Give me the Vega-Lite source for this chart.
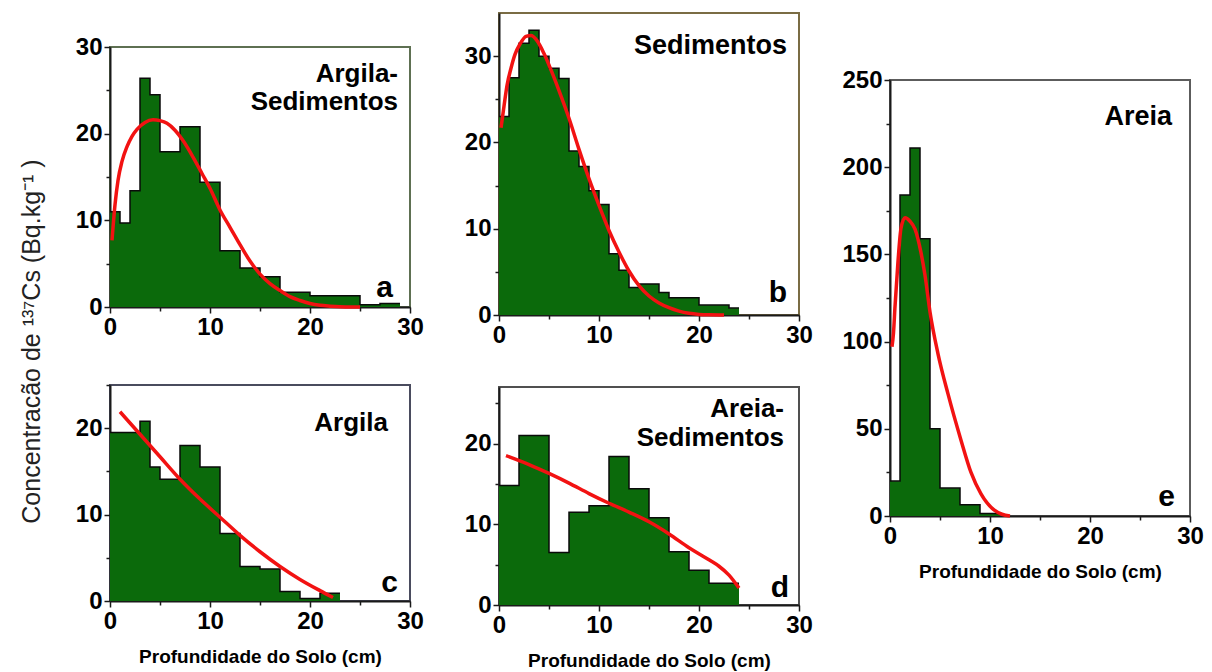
{
  "$schema": "https://vega.github.io/schema/vega-lite/v6.json",
  "background": "white",
  "padding": {"left": 20, "top": 12, "right": 5, "bottom": 5},
  "title": {
    "text": "Concentracão de ¹³⁷Cs  (Bq.kg⁻¹ )",
    "orient": "left",
    "anchor": "middle",
    "font": "Liberation Sans",
    "fontSize": 25,
    "fontWeight": "normal",
    "color": "#222222",
    "offset": 29
  },
  "config": {
    "axis": {
      "grid": false,
      "domainColor": "#1a1a1a",
      "domainWidth": 2,
      "tickColor": "#1a1a1a",
      "tickWidth": 1.5,
      "labelFont": "Liberation Sans",
      "labelFontSize": 24,
      "labelFontWeight": "bold",
      "labelColor": "#000000",
      "labelPadding": 2,
      "labelOverlap": false,
      "labelFlush": false,
      "titleFont": "Liberation Sans",
      "titleFontSize": 19,
      "titleFontWeight": "bold",
      "titleColor": "#000000",
      "titlePadding": 14
    },
    "text": {"font": "Liberation Sans", "fontWeight": "bold", "color": "#000000", "align": "right"}
  },
  "datasets": {
    "bins": [
      {"p": "a", "i": 1, "x0": 0, "x1": 1, "v": 11},
      {"p": "a", "i": 2, "x0": 1, "x1": 2, "v": 9.7},
      {"p": "a", "i": 3, "x0": 2, "x1": 3, "v": 13.4},
      {"p": "a", "i": 4, "x0": 3, "x1": 4, "v": 26.4},
      {"p": "a", "i": 5, "x0": 4, "x1": 5, "v": 24.5},
      {"p": "a", "i": 6, "x0": 5, "x1": 7, "v": 17.9},
      {"p": "a", "i": 7, "x0": 7, "x1": 9, "v": 20.8},
      {"p": "a", "i": 8, "x0": 9, "x1": 11, "v": 14.4},
      {"p": "a", "i": 9, "x0": 11, "x1": 13, "v": 6.5},
      {"p": "a", "i": 10, "x0": 13, "x1": 15, "v": 4.5},
      {"p": "a", "i": 11, "x0": 15, "x1": 17, "v": 3.5},
      {"p": "a", "i": 12, "x0": 17, "x1": 20, "v": 1.7},
      {"p": "a", "i": 13, "x0": 20, "x1": 25, "v": 1.3},
      {"p": "a", "i": 14, "x0": 25, "x1": 27, "v": 0.25},
      {"p": "a", "i": 15, "x0": 27, "x1": 29, "v": 0.4},

      {"p": "b", "i": 1, "x0": 0, "x1": 1, "v": 23},
      {"p": "b", "i": 2, "x0": 1, "x1": 2, "v": 27.5},
      {"p": "b", "i": 3, "x0": 2, "x1": 3, "v": 31.5},
      {"p": "b", "i": 4, "x0": 3, "x1": 4, "v": 33},
      {"p": "b", "i": 5, "x0": 4, "x1": 5, "v": 30},
      {"p": "b", "i": 6, "x0": 5, "x1": 6, "v": 28.6},
      {"p": "b", "i": 7, "x0": 6, "x1": 7, "v": 27.4},
      {"p": "b", "i": 8, "x0": 7, "x1": 8, "v": 19},
      {"p": "b", "i": 9, "x0": 8, "x1": 9, "v": 17.2},
      {"p": "b", "i": 10, "x0": 9, "x1": 10, "v": 14.4},
      {"p": "b", "i": 11, "x0": 10, "x1": 11, "v": 12.8},
      {"p": "b", "i": 12, "x0": 11, "x1": 12, "v": 7.1},
      {"p": "b", "i": 13, "x0": 12, "x1": 13, "v": 5.2},
      {"p": "b", "i": 14, "x0": 13, "x1": 14, "v": 3.2},
      {"p": "b", "i": 15, "x0": 14, "x1": 16, "v": 3.6},
      {"p": "b", "i": 16, "x0": 16, "x1": 17, "v": 2.6},
      {"p": "b", "i": 17, "x0": 17, "x1": 20, "v": 2.0},
      {"p": "b", "i": 18, "x0": 20, "x1": 23, "v": 1.15},
      {"p": "b", "i": 19, "x0": 23, "x1": 24, "v": 0.8},

      {"p": "c", "i": 1, "x0": 0, "x1": 3, "v": 19.5},
      {"p": "c", "i": 2, "x0": 3, "x1": 4, "v": 20.8},
      {"p": "c", "i": 3, "x0": 4, "x1": 5, "v": 15.5},
      {"p": "c", "i": 4, "x0": 5, "x1": 7, "v": 14.1},
      {"p": "c", "i": 5, "x0": 7, "x1": 9, "v": 18},
      {"p": "c", "i": 6, "x0": 9, "x1": 11, "v": 15.5},
      {"p": "c", "i": 7, "x0": 11, "x1": 13, "v": 7.8},
      {"p": "c", "i": 8, "x0": 13, "x1": 15, "v": 4.0},
      {"p": "c", "i": 9, "x0": 15, "x1": 17, "v": 3.7},
      {"p": "c", "i": 10, "x0": 17, "x1": 19, "v": 1.1},
      {"p": "c", "i": 11, "x0": 19, "x1": 21, "v": 0.3},
      {"p": "c", "i": 12, "x0": 21, "x1": 23, "v": 0.9},

      {"p": "d", "i": 1, "x0": 0, "x1": 2, "v": 14.8},
      {"p": "d", "i": 2, "x0": 2, "x1": 5, "v": 21},
      {"p": "d", "i": 3, "x0": 5, "x1": 7, "v": 6.5},
      {"p": "d", "i": 4, "x0": 7, "x1": 9, "v": 11.5},
      {"p": "d", "i": 5, "x0": 9, "x1": 11, "v": 12.3},
      {"p": "d", "i": 6, "x0": 11, "x1": 13, "v": 18.4},
      {"p": "d", "i": 7, "x0": 13, "x1": 15, "v": 14.4},
      {"p": "d", "i": 8, "x0": 15, "x1": 17, "v": 10.8},
      {"p": "d", "i": 9, "x0": 17, "x1": 19, "v": 6.6},
      {"p": "d", "i": 10, "x0": 19, "x1": 21, "v": 4.3},
      {"p": "d", "i": 11, "x0": 21, "x1": 24, "v": 2.7},

      {"p": "e", "i": 1, "x0": 0, "x1": 1, "v": 20},
      {"p": "e", "i": 2, "x0": 1, "x1": 2, "v": 184},
      {"p": "e", "i": 3, "x0": 2, "x1": 3, "v": 211},
      {"p": "e", "i": 4, "x0": 3, "x1": 4, "v": 159},
      {"p": "e", "i": 5, "x0": 4, "x1": 5, "v": 50},
      {"p": "e", "i": 6, "x0": 5, "x1": 7, "v": 16},
      {"p": "e", "i": 7, "x0": 7, "x1": 9, "v": 6.5},
      {"p": "e", "i": 8, "x0": 9, "x1": 11, "v": 1.5}
    ],
    "fit": [
      {"p": "a", "d": 0.2, "c": 7.7}, {"p": "a", "d": 0.5, "c": 11.8}, {"p": "a", "d": 0.8, "c": 14.6},
      {"p": "a", "d": 1.2, "c": 16.8}, {"p": "a", "d": 1.7, "c": 18.5}, {"p": "a", "d": 2.2, "c": 19.7},
      {"p": "a", "d": 2.7, "c": 20.5}, {"p": "a", "d": 3.5, "c": 21.3}, {"p": "a", "d": 4.3, "c": 21.6},
      {"p": "a", "d": 5, "c": 21.5}, {"p": "a", "d": 5.7, "c": 21.2}, {"p": "a", "d": 6.5, "c": 20.4},
      {"p": "a", "d": 7.3, "c": 19.2}, {"p": "a", "d": 8.3, "c": 17.3}, {"p": "a", "d": 9.2, "c": 15.4},
      {"p": "a", "d": 10, "c": 13.7}, {"p": "a", "d": 11, "c": 11.2}, {"p": "a", "d": 12, "c": 9.2},
      {"p": "a", "d": 13, "c": 7.2}, {"p": "a", "d": 14, "c": 5.3}, {"p": "a", "d": 15, "c": 3.8},
      {"p": "a", "d": 16, "c": 2.7}, {"p": "a", "d": 17, "c": 1.9}, {"p": "a", "d": 18, "c": 1.2},
      {"p": "a", "d": 19, "c": 0.75}, {"p": "a", "d": 20, "c": 0.4}, {"p": "a", "d": 21, "c": 0.2},
      {"p": "a", "d": 22, "c": 0.1}, {"p": "a", "d": 23, "c": 0.03}, {"p": "a", "d": 24, "c": 0},
      {"p": "a", "d": 25, "c": 0},

      {"p": "b", "d": 0.2, "c": 21.7}, {"p": "b", "d": 0.5, "c": 24.2}, {"p": "b", "d": 0.8, "c": 26.6},
      {"p": "b", "d": 1.2, "c": 28.6}, {"p": "b", "d": 1.6, "c": 30.2}, {"p": "b", "d": 2.1, "c": 31.4},
      {"p": "b", "d": 2.7, "c": 32.3}, {"p": "b", "d": 3.2, "c": 32.4}, {"p": "b", "d": 3.8, "c": 31.8},
      {"p": "b", "d": 4.5, "c": 30.3}, {"p": "b", "d": 5.2, "c": 28.4}, {"p": "b", "d": 6, "c": 26},
      {"p": "b", "d": 7, "c": 22.8}, {"p": "b", "d": 8, "c": 19.2}, {"p": "b", "d": 9, "c": 15.8},
      {"p": "b", "d": 10, "c": 12.7}, {"p": "b", "d": 11, "c": 9.8}, {"p": "b", "d": 12, "c": 7.3},
      {"p": "b", "d": 13, "c": 5.1}, {"p": "b", "d": 14, "c": 3.4}, {"p": "b", "d": 15, "c": 2.2},
      {"p": "b", "d": 16, "c": 1.4}, {"p": "b", "d": 17, "c": 0.85}, {"p": "b", "d": 18, "c": 0.45},
      {"p": "b", "d": 19, "c": 0.2}, {"p": "b", "d": 20, "c": 0.07}, {"p": "b", "d": 21, "c": 0.02},
      {"p": "b", "d": 22.5, "c": 0},

      {"p": "c", "d": 1, "c": 21.9}, {"p": "c", "d": 3, "c": 19.3}, {"p": "c", "d": 5, "c": 16.7},
      {"p": "c", "d": 7, "c": 14.1}, {"p": "c", "d": 9, "c": 11.8}, {"p": "c", "d": 11, "c": 9.7},
      {"p": "c", "d": 13, "c": 7.6}, {"p": "c", "d": 15, "c": 5.7}, {"p": "c", "d": 17, "c": 4.0},
      {"p": "c", "d": 19, "c": 2.5}, {"p": "c", "d": 21, "c": 1.2}, {"p": "c", "d": 22.3, "c": 0.4},

      {"p": "d", "d": 0.7, "c": 18.5}, {"p": "d", "d": 3, "c": 17.4}, {"p": "d", "d": 5, "c": 16.3},
      {"p": "d", "d": 7, "c": 15.1}, {"p": "d", "d": 9, "c": 13.8}, {"p": "d", "d": 11, "c": 12.6},
      {"p": "d", "d": 13, "c": 11.5}, {"p": "d", "d": 15, "c": 10.3}, {"p": "d", "d": 17, "c": 8.8},
      {"p": "d", "d": 19, "c": 7.1}, {"p": "d", "d": 21, "c": 5.6}, {"p": "d", "d": 22, "c": 4.8},
      {"p": "d", "d": 23, "c": 3.7}, {"p": "d", "d": 24, "c": 2.1},

      {"p": "e", "d": 0.2, "c": 97}, {"p": "e", "d": 0.35, "c": 105}, {"p": "e", "d": 0.5, "c": 120},
      {"p": "e", "d": 0.8, "c": 146}, {"p": "e", "d": 1.1, "c": 165}, {"p": "e", "d": 1.5, "c": 171},
      {"p": "e", "d": 2, "c": 169}, {"p": "e", "d": 2.5, "c": 164.5}, {"p": "e", "d": 3.1, "c": 151},
      {"p": "e", "d": 3.5, "c": 138}, {"p": "e", "d": 4, "c": 117}, {"p": "e", "d": 4.8, "c": 93},
      {"p": "e", "d": 5.8, "c": 70}, {"p": "e", "d": 7.1, "c": 43.5}, {"p": "e", "d": 8.1, "c": 25},
      {"p": "e", "d": 9.1, "c": 12.7}, {"p": "e", "d": 10.4, "c": 3.5}, {"p": "e", "d": 11.2, "c": 1},
      {"p": "e", "d": 12, "c": 0}
    ],
    "tags": [
      {"p": "a", "kind": "name", "d": 28.8, "c": 26.9, "t": "Argila-"},
      {"p": "a", "kind": "name", "d": 28.8, "c": 23.6, "t": "Sedimentos"},
      {"p": "a", "kind": "letter", "d": 28.3, "c": 2.2, "t": "a"},
      {"p": "b", "kind": "name", "d": 28.8, "c": 31.2, "t": "Sedimentos"},
      {"p": "b", "kind": "letter", "d": 28.8, "c": 2.5, "t": "b"},
      {"p": "c", "kind": "name", "d": 27.8, "c": 20.6, "t": "Argila"},
      {"p": "c", "kind": "letter", "d": 28.8, "c": 2.1, "t": "c"},
      {"p": "d", "kind": "name", "d": 28.5, "c": 24.3, "t": "Areia-"},
      {"p": "d", "kind": "name", "d": 28.5, "c": 20.7, "t": "Sedimentos"},
      {"p": "d", "kind": "letter", "d": 29, "c": 2.1, "t": "d"},
      {"p": "e", "kind": "name", "d": 28.2, "c": 229, "t": "Areia"},
      {"p": "e", "kind": "letter", "d": 28.5, "c": 10.9, "t": "e"}
    ]
  },
  "hconcat": [
    {
      "hconcat": [
        {
          "vconcat": [
            {"width": 300, "height": 34, "view": {"fill": "#ffffff", "stroke": null}, "data": {"values": [{}]}, "mark": {"type": "point", "opacity": 0}},
            {
              "vconcat": [
                {
                  "width": 300, "height": 260,
                  "view": {"stroke": "#5e7052", "strokeWidth": 2},
                  "layer": [
                    {"data": {"name": "bins"}, "transform": [{"filter": "datum.p === 'a'"}],
                     "mark": {"type": "rect", "color": "#0b6a0b"},
                     "encoding": {
                       "x": {"field": "x0", "type": "quantitative", "scale": {"domain": [0, 30], "nice": false},
                             "axis": {"title": null, "values": [0,5,10,15,20,25,30],
                                      "labelExpr": "datum.value % 10 === 0 ? datum.label : ''",
                                      "tickSize": {"condition": {"test": "datum.value % 10 === 0", "value": 6}, "value": 4}}},
                       "x2": {"field": "x1"},
                       "y": {"field": "v", "type": "quantitative", "scale": {"domain": [0, 30], "nice": false},
                             "axis": {"title": null, "values": [0,5,10,15,20,25,30],
                                      "labelExpr": "datum.value % 10 === 0 ? datum.label : ''",
                                      "tickSize": {"condition": {"test": "datum.value % 10 === 0", "value": 6}, "value": 4}}},
                       "y2": {"datum": 0}
                     }},
                    {"data": {"name": "bins"}, "transform": [{"filter": "datum.p === 'a'"}, {"fold": ["x0", "x1"], "as": ["k", "xx"]}],
                     "mark": {"type": "line", "color": "#0a0a0a", "strokeWidth": 1.5},
                     "encoding": {"x": {"field": "xx", "type": "quantitative", "title": null}, "y": {"field": "v", "type": "quantitative", "title": null},
                                  "order": [{"field": "i", "type": "quantitative"}, {"field": "k", "type": "ordinal"}]}},
                    {"data": {"name": "fit"}, "transform": [{"filter": "datum.p === 'a'"}],
                     "mark": {"type": "line", "color": "#f21212", "strokeWidth": 3.5, "interpolate": "monotone"},
                     "encoding": {"x": {"field": "d", "type": "quantitative", "title": null}, "y": {"field": "c", "type": "quantitative", "title": null}}},
                    {"data": {"name": "tags"}, "transform": [{"filter": "datum.p === 'a' && datum.kind === 'name'"}],
                     "mark": {"type": "text", "fontSize": 26},
                     "encoding": {"x": {"field": "d", "type": "quantitative", "title": null}, "y": {"field": "c", "type": "quantitative", "title": null}, "text": {"field": "t"}}},
                    {"data": {"name": "tags"}, "transform": [{"filter": "datum.p === 'a' && datum.kind === 'letter'"}],
                     "mark": {"type": "text", "fontSize": 30},
                     "encoding": {"x": {"field": "d", "type": "quantitative", "title": null}, "y": {"field": "c", "type": "quantitative", "title": null}, "text": {"field": "t"}}}
                  ]
                },
                {
                  "width": 300, "height": 216,
                  "view": {"stroke": "#4a4c5e", "strokeWidth": 2},
                  "layer": [
                    {"data": {"name": "bins"}, "transform": [{"filter": "datum.p === 'c'"}],
                     "mark": {"type": "rect", "color": "#0b6a0b"},
                     "encoding": {
                       "x": {"field": "x0", "type": "quantitative", "scale": {"domain": [0, 30], "nice": false},
                             "axis": {"title": "Profundidade do Solo (cm)", "values": [0,5,10,15,20,25,30],
                                      "labelExpr": "datum.value % 10 === 0 ? datum.label : ''",
                                      "tickSize": {"condition": {"test": "datum.value % 10 === 0", "value": 6}, "value": 4}}},
                       "x2": {"field": "x1"},
                       "y": {"field": "v", "type": "quantitative", "scale": {"domain": [0, 25], "nice": false},
                             "axis": {"title": null, "values": [0,5,10,15,20,25],
                                      "labelExpr": "datum.value % 10 === 0 ? datum.label : ''",
                                      "tickSize": {"condition": {"test": "datum.value % 10 === 0", "value": 6}, "value": 4}}},
                       "y2": {"datum": 0}
                     }},
                    {"data": {"name": "bins"}, "transform": [{"filter": "datum.p === 'c'"}, {"fold": ["x0", "x1"], "as": ["k", "xx"]}],
                     "mark": {"type": "line", "color": "#0a0a0a", "strokeWidth": 1.5},
                     "encoding": {"x": {"field": "xx", "type": "quantitative"}, "y": {"field": "v", "type": "quantitative", "title": null},
                                  "order": [{"field": "i", "type": "quantitative"}, {"field": "k", "type": "ordinal"}]}},
                    {"data": {"name": "fit"}, "transform": [{"filter": "datum.p === 'c'"}],
                     "mark": {"type": "line", "color": "#f21212", "strokeWidth": 3.5, "interpolate": "monotone"},
                     "encoding": {"x": {"field": "d", "type": "quantitative"}, "y": {"field": "c", "type": "quantitative", "title": null}}},
                    {"data": {"name": "tags"}, "transform": [{"filter": "datum.p === 'c' && datum.kind === 'name'"}],
                     "mark": {"type": "text", "fontSize": 26},
                     "encoding": {"x": {"field": "d", "type": "quantitative"}, "y": {"field": "c", "type": "quantitative", "title": null}, "text": {"field": "t"}}},
                    {"data": {"name": "tags"}, "transform": [{"filter": "datum.p === 'c' && datum.kind === 'letter'"}],
                     "mark": {"type": "text", "fontSize": 30},
                     "encoding": {"x": {"field": "d", "type": "quantitative"}, "y": {"field": "c", "type": "quantitative", "title": null}, "text": {"field": "t"}}}
                  ]
                }
              ],
              "spacing": 78,
              "bounds": "flush"
            }
          ],
          "spacing": 0,
          "bounds": "flush"
        },
        {
          "vconcat": [
            {
              "width": 300, "height": 302,
              "view": {"stroke": "#7a6c44", "strokeWidth": 2},
              "layer": [
                {"data": {"name": "bins"}, "transform": [{"filter": "datum.p === 'b'"}],
                 "mark": {"type": "rect", "color": "#0b6a0b"},
                 "encoding": {
                   "x": {"field": "x0", "type": "quantitative", "scale": {"domain": [0, 30], "nice": false},
                         "axis": {"title": null, "values": [0,5,10,15,20,25,30],
                                  "labelExpr": "datum.value % 10 === 0 ? datum.label : ''",
                                  "tickSize": {"condition": {"test": "datum.value % 10 === 0", "value": 6}, "value": 4}}},
                   "x2": {"field": "x1"},
                   "y": {"field": "v", "type": "quantitative", "scale": {"domain": [0, 35], "nice": false},
                         "axis": {"title": null, "values": [0,5,10,15,20,25,30],
                                  "labelExpr": "datum.value % 10 === 0 ? datum.label : ''",
                                  "tickSize": {"condition": {"test": "datum.value % 10 === 0", "value": 6}, "value": 4}}},
                   "y2": {"datum": 0}
                 }},
                {"data": {"name": "bins"}, "transform": [{"filter": "datum.p === 'b'"}, {"fold": ["x0", "x1"], "as": ["k", "xx"]}],
                 "mark": {"type": "line", "color": "#0a0a0a", "strokeWidth": 1.5},
                 "encoding": {"x": {"field": "xx", "type": "quantitative", "title": null}, "y": {"field": "v", "type": "quantitative", "title": null},
                              "order": [{"field": "i", "type": "quantitative"}, {"field": "k", "type": "ordinal"}]}},
                {"data": {"name": "fit"}, "transform": [{"filter": "datum.p === 'b'"}],
                 "mark": {"type": "line", "color": "#f21212", "strokeWidth": 3.5, "interpolate": "monotone"},
                 "encoding": {"x": {"field": "d", "type": "quantitative", "title": null}, "y": {"field": "c", "type": "quantitative", "title": null}}},
                {"data": {"name": "tags"}, "transform": [{"filter": "datum.p === 'b' && datum.kind === 'name'"}],
                 "mark": {"type": "text", "fontSize": 27},
                 "encoding": {"x": {"field": "d", "type": "quantitative", "title": null}, "y": {"field": "c", "type": "quantitative", "title": null}, "text": {"field": "t"}}},
                {"data": {"name": "tags"}, "transform": [{"filter": "datum.p === 'b' && datum.kind === 'letter'"}],
                 "mark": {"type": "text", "fontSize": 30},
                 "encoding": {"x": {"field": "d", "type": "quantitative", "title": null}, "y": {"field": "c", "type": "quantitative", "title": null}, "text": {"field": "t"}}}
              ]
            },
            {
              "width": 300, "height": 218,
              "view": {"stroke": "#505050", "strokeWidth": 2},
              "layer": [
                {"data": {"name": "bins"}, "transform": [{"filter": "datum.p === 'd'"}],
                 "mark": {"type": "rect", "color": "#0b6a0b"},
                 "encoding": {
                   "x": {"field": "x0", "type": "quantitative", "scale": {"domain": [0, 30], "nice": false},
                         "axis": {"title": "Profundidade do Solo (cm)", "values": [0,5,10,15,20,25,30],
                                  "labelExpr": "datum.value % 10 === 0 ? datum.label : ''",
                                  "tickSize": {"condition": {"test": "datum.value % 10 === 0", "value": 6}, "value": 4}}},
                   "x2": {"field": "x1"},
                   "y": {"field": "v", "type": "quantitative", "scale": {"domain": [0, 27], "nice": false},
                         "axis": {"title": null, "values": [0,5,10,15,20,25],
                                  "labelExpr": "datum.value % 10 === 0 ? datum.label : ''",
                                  "tickSize": {"condition": {"test": "datum.value % 10 === 0", "value": 6}, "value": 4}}},
                   "y2": {"datum": 0}
                 }},
                {"data": {"name": "bins"}, "transform": [{"filter": "datum.p === 'd'"}, {"fold": ["x0", "x1"], "as": ["k", "xx"]}],
                 "mark": {"type": "line", "color": "#0a0a0a", "strokeWidth": 1.5},
                 "encoding": {"x": {"field": "xx", "type": "quantitative"}, "y": {"field": "v", "type": "quantitative", "title": null},
                              "order": [{"field": "i", "type": "quantitative"}, {"field": "k", "type": "ordinal"}]}},
                {"data": {"name": "fit"}, "transform": [{"filter": "datum.p === 'd'"}],
                 "mark": {"type": "line", "color": "#f21212", "strokeWidth": 3.5, "interpolate": "monotone"},
                 "encoding": {"x": {"field": "d", "type": "quantitative"}, "y": {"field": "c", "type": "quantitative", "title": null}}},
                {"data": {"name": "tags"}, "transform": [{"filter": "datum.p === 'd' && datum.kind === 'name'"}],
                 "mark": {"type": "text", "fontSize": 26},
                 "encoding": {"x": {"field": "d", "type": "quantitative"}, "y": {"field": "c", "type": "quantitative", "title": null}, "text": {"field": "t"}}},
                {"data": {"name": "tags"}, "transform": [{"filter": "datum.p === 'd' && datum.kind === 'letter'"}],
                 "mark": {"type": "text", "fontSize": 30},
                 "encoding": {"x": {"field": "d", "type": "quantitative"}, "y": {"field": "c", "type": "quantitative", "title": null}, "text": {"field": "t"}}}
              ]
            }
          ],
          "spacing": 72,
          "bounds": "flush"
        }
      ],
      "spacing": 38,
      "bounds": "full"
    },
    {
      "vconcat": [
        {"width": 300, "height": 67, "view": {"fill": "#ffffff", "stroke": null}, "data": {"values": [{}]}, "mark": {"type": "point", "opacity": 0}},
        {
          "width": 300, "height": 436,
          "view": {"stroke": "#5c5c5c", "strokeWidth": 2},
          "layer": [
            {"data": {"name": "bins"}, "transform": [{"filter": "datum.p === 'e'"}],
             "mark": {"type": "rect", "color": "#0b6a0b"},
             "encoding": {
               "x": {"field": "x0", "type": "quantitative", "scale": {"domain": [0, 30], "nice": false},
                     "axis": {"title": "Profundidade do Solo (cm)", "values": [0,5,10,15,20,25,30],
                              "labelExpr": "datum.value % 10 === 0 ? datum.label : ''",
                              "tickSize": {"condition": {"test": "datum.value % 10 === 0", "value": 6}, "value": 4}}},
               "x2": {"field": "x1"},
               "y": {"field": "v", "type": "quantitative", "scale": {"domain": [0, 250], "nice": false},
                     "axis": {"title": null, "values": [0,25,50,75,100,125,150,175,200,225,250],
                              "labelExpr": "datum.value % 50 === 0 ? datum.label : ''",
                              "tickSize": {"condition": {"test": "datum.value % 50 === 0", "value": 6}, "value": 4}}},
               "y2": {"datum": 0}
             }},
            {"data": {"name": "bins"}, "transform": [{"filter": "datum.p === 'e'"}, {"fold": ["x0", "x1"], "as": ["k", "xx"]}],
             "mark": {"type": "line", "color": "#0a0a0a", "strokeWidth": 1.5},
             "encoding": {"x": {"field": "xx", "type": "quantitative"}, "y": {"field": "v", "type": "quantitative", "title": null},
                          "order": [{"field": "i", "type": "quantitative"}, {"field": "k", "type": "ordinal"}]}},
            {"data": {"name": "fit"}, "transform": [{"filter": "datum.p === 'e'"}],
             "mark": {"type": "line", "color": "#f21212", "strokeWidth": 3.5, "interpolate": "monotone"},
             "encoding": {"x": {"field": "d", "type": "quantitative"}, "y": {"field": "c", "type": "quantitative", "title": null}}},
            {"data": {"name": "tags"}, "transform": [{"filter": "datum.p === 'e' && datum.kind === 'name'"}],
             "mark": {"type": "text", "fontSize": 27},
             "encoding": {"x": {"field": "d", "type": "quantitative"}, "y": {"field": "c", "type": "quantitative", "title": null}, "text": {"field": "t"}}},
            {"data": {"name": "tags"}, "transform": [{"filter": "datum.p === 'e' && datum.kind === 'letter'"}],
             "mark": {"type": "text", "fontSize": 30},
             "encoding": {"x": {"field": "d", "type": "quantitative"}, "y": {"field": "c", "type": "quantitative", "title": null}, "text": {"field": "t"}}}
          ]
        }
      ],
      "spacing": 0,
      "bounds": "flush"
    }
  ],
  "spacing": 26,
  "bounds": "full"
}
